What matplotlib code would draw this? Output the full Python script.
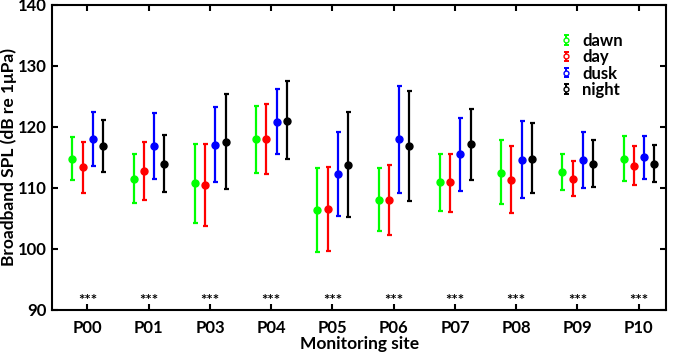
#!/usr/bin/env python

""" Broadband SPL per monitoring site and time of day, with error bars. """

import numpy as np
import matplotlib
matplotlib.use("Agg")
import matplotlib.pyplot as plt
from matplotlib.legend_handler import HandlerErrorbar

sites = ["P00", "P01", "P03", "P04", "P05", "P06", "P07", "P08", "P09", "P10"]
periods = ["dawn", "day", "dusk", "night"]
colors = ["#00ff00", "#ff0000", "#0000ff", "#000000"]

# mean level (dB re 1 uPa)
dawn_mean = [114.8, 111.5, 110.8, 118.0, 106.4, 108.0, 111.0, 112.5, 112.6, 114.8]
day_mean = [113.4, 112.8, 110.5, 118.0, 106.6, 108.1, 110.9, 111.3, 111.5, 113.6]
dusk_mean = [118.0, 116.9, 117.0, 120.8, 112.3, 118.0, 115.5, 114.6, 114.6, 115.0]
night_mean = [116.9, 114.0, 117.6, 121.0, 113.8, 116.9, 117.2, 114.8, 114.0, 114.0]

# lower / upper ends of the bars
dawn_low = [111.3, 107.5, 104.3, 112.5, 99.5, 102.9, 106.3, 107.4, 109.7, 111.1]
dawn_high = [118.3, 115.6, 117.2, 123.4, 113.2, 113.2, 115.6, 117.8, 115.5, 118.5]
day_low = [109.2, 108.0, 103.8, 112.3, 99.7, 102.3, 106.1, 105.9, 108.6, 110.4]
day_high = [117.5, 117.5, 117.2, 123.7, 113.5, 113.8, 115.6, 116.9, 114.4, 116.9]
dusk_low = [113.6, 111.5, 110.9, 115.6, 105.4, 109.2, 109.5, 108.3, 110.0, 111.5]
dusk_high = [122.5, 122.3, 123.2, 126.2, 119.2, 126.7, 121.4, 120.9, 119.1, 118.5]
night_low = [112.6, 109.3, 109.8, 114.7, 105.2, 107.8, 111.3, 109.1, 110.1, 111.0]
night_high = [121.1, 118.7, 125.4, 127.5, 122.5, 125.9, 123.0, 120.6, 117.9, 117.1]

signif = ["***"] * len(sites)

means = [dawn_mean, day_mean, dusk_mean, night_mean]
lows = [dawn_low, day_low, dusk_low, night_low]
highs = [dawn_high, day_high, dusk_high, night_high]
offsets = [-0.245, -0.08, 0.09, 0.255]

plt.rcParams["font.family"] = ["Lato", "DejaVu Sans"]
plt.rcParams["font.weight"] = "bold"

fig = plt.figure(figsize=(6.75, 3.55), dpi=100)
ax = fig.add_axes([0.077, 0.127, 0.91, 0.859])

x = np.arange(1, len(sites) + 1)
for mean, low, high, off, col in zip(means, lows, highs, offsets, colors):
    mean = np.array(mean)
    yerr = [mean - np.array(low), np.array(high) - mean]
    ax.errorbar(x + off, mean, yerr=yerr, fmt="o", color=col, ms=5,
                elinewidth=1.6, capsize=1.8, capthick=1.6)

# legend uses hollow markers
handles = []
for name, col in zip(periods, colors):
    h = ax.errorbar([np.nan], [np.nan], yerr=[[1], [1]], fmt="o", color=col,
                    mfc="white", ms=3.5, elinewidth=1.4, capsize=1.8, capthick=1.4,
                    label=name)
    handles.append(h)
ax.legend(handles=handles, loc="upper right", bbox_to_anchor=(0.94, 0.93),
          frameon=False, fontsize=12, handlelength=0.7, handletextpad=0.6,
          labelspacing=0.02, borderaxespad=0,
          handler_map={type(handles[0]): HandlerErrorbar(yerr_size=0.28)})

for xi, s in zip(x, signif):
    ax.text(xi, 91.4, s, ha="center", va="center", fontsize=11)

ax.set_xlim(0.42, 10.45)
ax.set_ylim(90, 140)
ax.set_xticks(x)
ax.set_xticklabels(sites)
ax.set_yticks(range(90, 141, 10))
ax.tick_params(direction="in", top=True, right=True, width=1.5, length=4,
               labelsize=12)
ax.tick_params(axis="x", pad=7)
for spine in ax.spines.values():
    spine.set_linewidth(1.5)
ax.set_xlabel("Monitoring site", fontsize=12.5, fontweight="bold", labelpad=0)
ax.set_ylabel("Broadband SPL (dB re 1μPa)", fontsize=12.5, fontweight="bold",
              labelpad=1)

fig.savefig("out.png", dpi=100)
